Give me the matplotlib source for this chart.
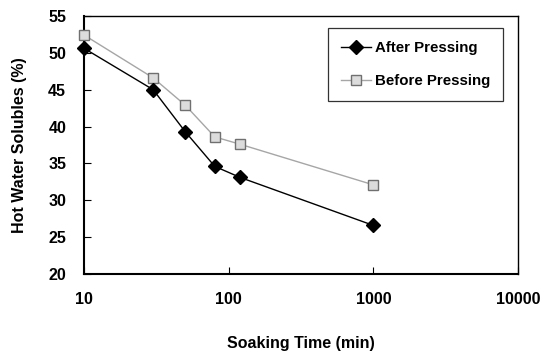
import matplotlib
matplotlib.use('Agg')
from matplotlib import pyplot as plt

# soaking time (min) and hot water solubles (%)
soak_time = [10, 30, 50, 80, 120, 1000]
after_pressing = [50.6, 45.0, 39.3, 34.6, 33.1, 26.6]
before_pressing = [52.4, 46.6, 42.9, 38.6, 37.6, 32.1]

x_ticks = [10, 100, 1000, 10000]
y_ticks = [20, 25, 30, 35, 40, 45, 50, 55]

plt.rcParams['font.family'] = ['Liberation Sans', 'DejaVu Sans']
plt.rcParams['font.weight'] = 'bold'

fig = plt.figure(figsize=(5.4, 3.55), dpi=100)
ax = fig.add_axes([0.156, 0.228, 0.803, 0.727])

ax.plot(soak_time, after_pressing, color='black', lw=1, marker='D',
        markersize=7.5, markerfacecolor='black', markeredgecolor='black',
        label='After Pressing', clip_on=False, zorder=4)
ax.plot(soak_time, before_pressing, color='#a6a6a6', lw=1, marker='s',
        markersize=6.5, markerfacecolor='#dcdcdc', markeredgecolor='#707070',
        label='Before Pressing', clip_on=False, zorder=3)

ax.set_xscale('log')
ax.set_xlim(10, 10000)
ax.set_ylim(20, 55)
ax.set_xticks(x_ticks)
ax.set_xticklabels([str(t) for t in x_ticks])
ax.set_yticks(y_ticks)
ax.minorticks_off()
ax.tick_params(axis='x', direction='in', length=5, pad=13, labelsize=11.5)
ax.tick_params(axis='y', direction='in', length=5, pad=13, labelsize=11.5)
for lab in ax.get_xticklabels() + ax.get_yticklabels():
    lab.set_fontweight('bold')

for side in ['left', 'bottom']:
    ax.spines[side].set_linewidth(1.5)
for side in ['top', 'right']:
    ax.spines[side].set_linewidth(1)

ax.set_xlabel('Soaking Time (min)', fontsize=11.5, fontweight='bold', labelpad=21)
ax.set_ylabel('Hot Water Solubles (%)', fontsize=11.5, fontweight='bold', labelpad=15)

leg = ax.legend(loc='upper left', bbox_to_anchor=(0.562, 0.953), fontsize=10.8,
                frameon=True, fancybox=False, edgecolor='black',
                borderpad=0.85, labelspacing=1.3, handlelength=2.0,
                handletextpad=0.3, borderaxespad=0)
leg.get_frame().set_linewidth(0.9)
for t in leg.get_texts():
    t.set_fontweight('bold')

plt.savefig('out.png', dpi=100)
